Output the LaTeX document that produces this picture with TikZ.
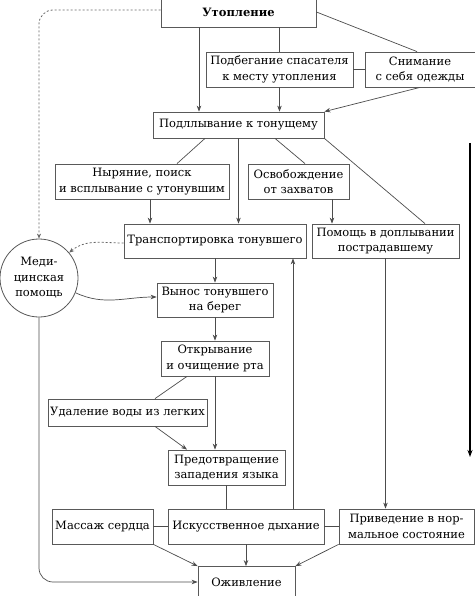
\documentclass[tikz,border=0pt]{standalone}
\usepackage{fontspec}
\setmainfont{DejaVu Serif}
\usetikzlibrary{arrows.meta,calc}
\begin{document}
\begin{tikzpicture}[x=1pt,y=-1pt,
  box/.style={draw=black!65,line width=0.8pt,fill=white,inner sep=0pt,align=center,
    font=\fontsize{11.5}{15.5}\selectfont},
  ln/.style={draw=black!70,line width=0.7pt},
  arr/.style={ln,-{Stealth[length=6pt,width=4.5pt]}},
  dsh/.style={draw=black!60,line width=0.8pt,dash pattern=on 2pt off 2pt}]
\useasboundingbox (0,0) rectangle (474,596);
\node[box,minimum width=155pt,minimum height=30pt,font=\fontsize{11.5}{15.5}\selectfont\bfseries] (ut) at (238.5,12) {Утопление};
\node[box,minimum width=147pt,minimum height=35pt] (pod) at (279.5,69.5) {Подбегание спасателя\\к месту утопления};
\node[box,minimum width=110pt,minimum height=35pt] (sn) at (420,69.5) {Снимание\\с себя одежды};
\node[box,minimum width=171pt,minimum height=26pt] (podl) at (238.5,125) {Подллывание к тонущему};
\node[box,minimum width=174pt,minimum height=35pt] (nyr) at (142,181.5) {Ныряние, поиск\\и всплывание с утонувшим};
\node[box,minimum width=101pt,minimum height=35pt] (osv) at (298.5,181.5) {Освобождение\\от захватов};
\node[box,minimum width=182pt,minimum height=34pt] (tr) at (215,241) {Транспортировка тонувшего};
\node[box,minimum width=147pt,minimum height=34pt] (pom) at (385.5,241) {Помощь в доплывании\\пострадавшему};
\node[box,circle,minimum size=78pt] (med) at (39,278) {Меди-\\цинская\\помощь};
\node[box,minimum width=116pt,minimum height=34pt] (vyn) at (215,300) {Вынос тонувшего\\на берег};
\node[box,minimum width=108pt,minimum height=35pt] (otk) at (215,358.5) {Открывание\\и очищение рта};
\node[box,minimum width=159pt,minimum height=27pt] (udal) at (127.5,412.5) {Удаление воды из легких};
\node[box,minimum width=117pt,minimum height=35pt] (pred) at (226.5,467.5) {Предотвращение\\западения языка};
\node[box,minimum width=156pt,minimum height=35pt] (isk) at (246,526.5) {Искусственное дыхание};
\node[box,minimum width=101pt,minimum height=35pt] (mas) at (102.5,526.5) {Массаж сердца};
\node[box,minimum width=135pt,minimum height=35pt] (priv) at (406.5,526.5) {Приведение в нор-\\мальное состояние};
\node[box,minimum width=97pt,minimum height=31pt] (ozh) at (246.5,582) {Оживление};
\coordinate (vt) at (470,143);
\coordinate (vb) at (470,457);

\draw[arr] ([xshift=-39.5]ut.south) -- ([xshift=-39.5]podl.north);
\draw[ln] (ut.south -| pod.north) -- (pod.north);
\draw[arr] (pod.south) -- (podl.north -| pod.south);
\draw[ln] (ut.east) -- ([xshift=-3]sn.north);
\draw[ln] (pod.east) -- (sn.west);
\draw[arr] (sn.south) -- (podl.north east);
\draw[ln] ([xshift=-33.5]podl.south) -- ([xshift=35]nyr.north);
\draw[arr] (podl.south) -- (tr.north -| podl.south);
\draw[ln] ([xshift=36.5]podl.south) -- ([xshift=6.5]osv.north);
\draw[ln] (podl.south east) -- ([xshift=39.5]pom.north);
\draw[arr] ([xshift=8]nyr.south) -- ([xshift=8]nyr.south |- tr.north);
\draw[arr] ([xshift=33.5]osv.south) -- ([xshift=33.5]osv.south |- pom.north);
\draw[dsh,-{Stealth[length=5pt,width=4pt]}] ([yshift=-2]tr.west) to[out=180,in=40] (med.40);
\draw[dsh,-{Stealth[length=5pt,width=4pt]},rounded corners=14pt] ([yshift=2]ut.west) -| (med.north);
\draw[arr] (med.-22) to[out=-25,in=180] ([yshift=3]vyn.west);
\draw[arr,rounded corners=14pt] (med.south) |- (ozh.west);
\draw[arr] (tr.south) -- (vyn.north);
\draw[arr] ([xshift=47]isk.north) -- ([xshift=78]tr.south);
\draw[arr] (pom.south) -- (priv.north -| pom.south);
\draw[arr] (vyn.south) -- (otk.north);
\draw[ln] ([xshift=-28]otk.south) -- ([xshift=27.5]udal.north);
\draw[arr] (otk.south) -- (pred.north -| otk.south);
\draw[arr] ([xshift=27.5]udal.south) -- ([xshift=-39.5]pred.north);
\draw[ln] (pred.south) -- (isk.north -| pred.south);
\draw[ln] (mas.east) -- (isk.west);
\draw[ln] (isk.east) -- (priv.west);
\draw[arr] (mas.south east) -- (ozh.north west);
\draw[arr] (isk.south) -- (ozh.north -| isk.south);
\draw[arr] (priv.south west) -- (ozh.north east);
\draw[draw=black,line width=1.2pt,-{Stealth[length=7pt,width=5pt]}] (vt) -- (vb);
\end{tikzpicture}
\end{document}
